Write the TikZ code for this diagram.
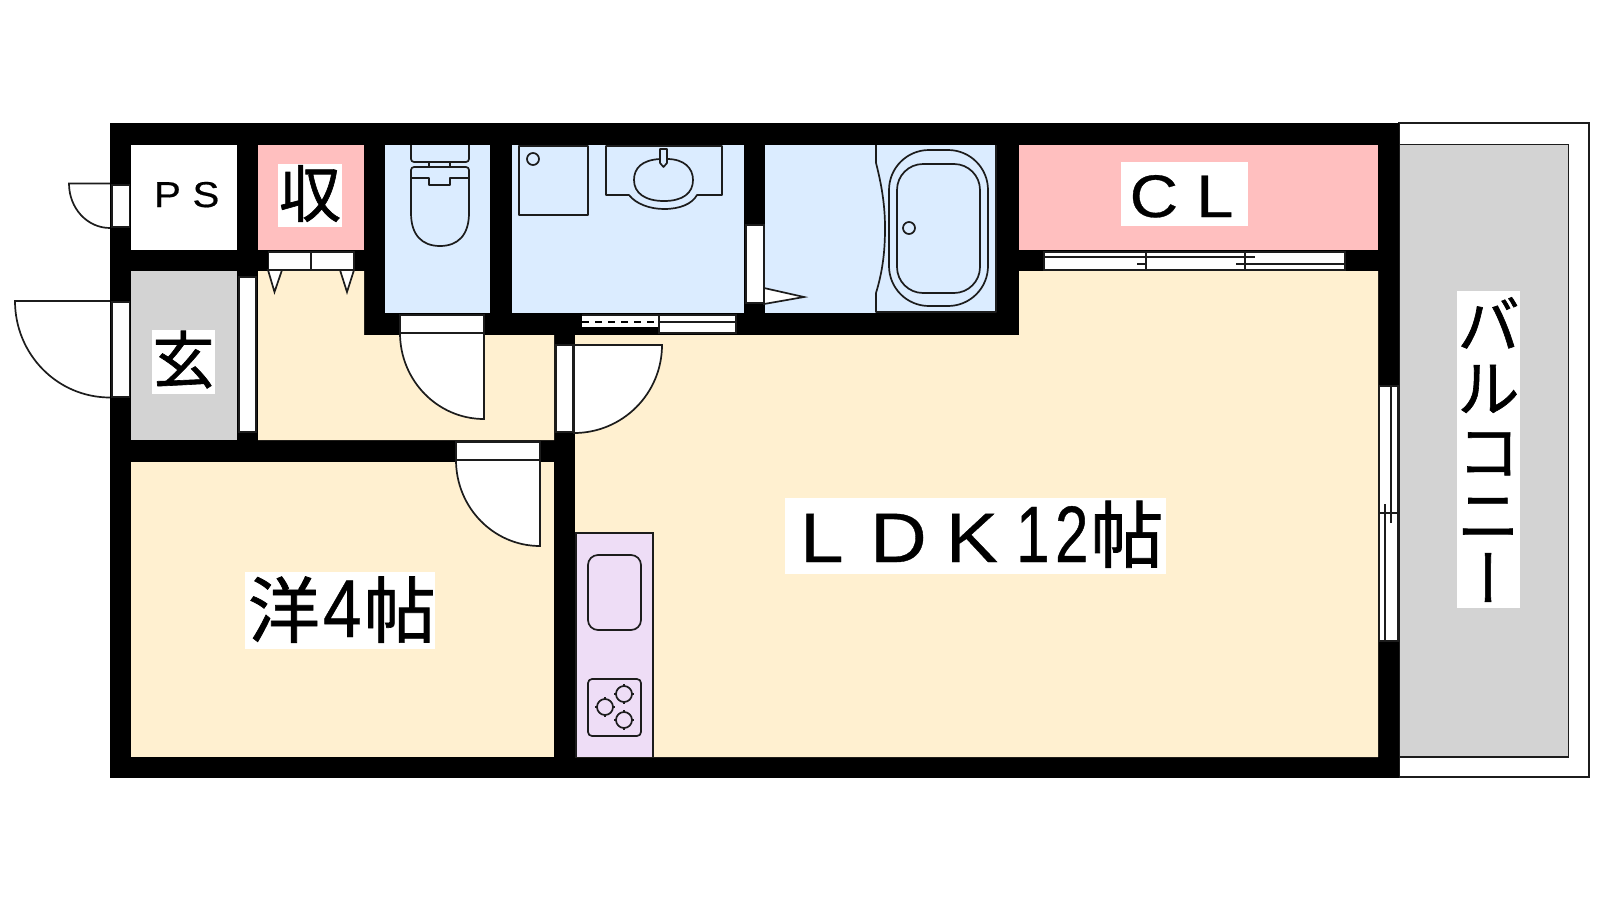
\documentclass[tikz,border=0pt]{standalone}
\usepackage{fontspec}
\setmainfont{Liberation Sans}
\newfontfamily\cjk[FakeBold=1]{Noto Sans CJK JP}
\newfontfamily\cjkv[RawFeature=+vert,FakeBold=1]{Noto Sans CJK JP}
\newfontfamily\widea[FakeStretch=1.12,FakeBold=0.5]{Liberation Sans}
\newfontfamily\narrowa[FakeStretch=0.75,FakeBold=0.5]{Liberation Sans}
\newfontfamily\narrowb[FakeStretch=0.85,FakeBold=0.5]{Liberation Sans}
\definecolor{cream}{HTML}{FFF0D0}
\definecolor{pinkroom}{HTML}{FFBFBF}
\definecolor{skyroom}{HTML}{DBECFF}
\definecolor{grayroom}{HTML}{D3D3D3}
\definecolor{lilac}{HTML}{EEDDF6}
\definecolor{ink}{HTML}{1C1C1C}
% width, height, baseline from top (pt), content
\newcommand\lbl[4]{\makebox[#1pt][l]{\rule[\dimexpr-#2pt+#3pt\relax]{0pt}{#2pt}#4}}
\tikzset{
  ln/.style={draw=ink,line width=0.85pt},
  panel/.style={ln,fill=white},
  fixture/.style={ln,line join=round},
  lab/.style={fill=white,inner sep=0pt,outer sep=0pt,anchor=north west,text=black},
}
\begin{document}
\begin{tikzpicture}[x=0.5pt,y=-0.5pt]
\useasboundingbox (0,0) rectangle (1600,900);
\fill[white] (0,0) rectangle (1600,900);
% balcony
\draw[panel] (1399,123) rectangle (1589,777);
\draw[ln,fill=grayroom] (1399,144.5) rectangle (1568.5,757);
% structure
\fill[black] (110,123) rectangle (1399,778);
% rooms
\fill[white] (131,145) rectangle (237,250);
\fill[pinkroom] (258,145) rectangle (364,250);
\fill[pinkroom] (1019,145) rectangle (1378,250);
\fill[grayroom] (131,271) rectangle (237,440);
\fill[skyroom] (385,145) rectangle (490,313);
\fill[skyroom] (512,145) rectangle (744,313);
\fill[skyroom] (765,145) rectangle (996,313);
\fill[cream] (258,271) -- (364,271) -- (364,335) -- (554,335) -- (554,440) -- (258,440) -- cycle;
\fill[cream] (131,462) rectangle (554,757);
\fill[cream] (1019,271) -- (1378,271) -- (1378,757) -- (575,757) -- (575,335) -- (1019,335) -- cycle;
% exterior doors
\draw[panel] (112,185) rectangle (129.5,227);
\draw[ln] (110,183.5) -- (69,183.5) .. controls (69,208) and (87,228) .. (110,228);
\draw[panel] (112,302) rectangle (129.5,397);
\draw[ln] (110,301) -- (15,301) .. controls (15,354) and (57,397.5) .. (110,397.5);
% genkan partition
\draw[panel] (239,277) rectangle (256,432);
% storage door
\draw[panel] (268.5,252) rectangle (354,270);
\draw[ln] (311,252) -- (311,270);
\draw[panel] (268,270) -- (282,270) -- (274.5,292) -- cycle;
\draw[panel] (340,270) -- (354,270) -- (347,292) -- cycle;
% toilet door
\draw[panel] (400,315) rectangle (484,333);
\draw[panel] (400,333) .. controls (400,380.5) and (437.6,419) .. (484,419) -- (484,333) -- cycle;
% LDK door
\draw[panel] (556,345) rectangle (573,432);
\draw[panel] (574,345) -- (662,345) .. controls (662,393.6) and (622.6,433) .. (574,433) -- cycle;
% western room door
\draw[panel] (456,442) rectangle (540,460);
\draw[panel] (456,460) .. controls (456,507.5) and (493.6,546) .. (540,546) -- (540,460) -- cycle;
% washroom sliding door
\fill[white] (582,316) rectangle (658,327);
\draw[ln] (582,315) -- (658,315);
\draw[draw=black,line width=1pt,dash pattern=on 3.5pt off 3pt] (582,322) -- (658,322);
\draw[panel] (659,315) rectangle (736,333);
\draw[ln] (659,322) -- (736,322);
% bath door
\draw[panel] (746,225) rectangle (764,303);
\draw[panel] (764,288) -- (804,297) -- (764,304) -- cycle;
% bath
\draw[fixture] (876,145) -- (876,163) .. controls (883,190) and (885,210) .. (885,228) .. controls (885,250) and (883,270) .. (876,293) -- (876,312) -- (996,312) -- (996,145);
\draw[fixture,rounded corners=20pt] (889,150) rectangle (988,306);
\draw[fixture,rounded corners=13pt] (897,164) rectangle (980,293);
\draw[fixture] (909,228) circle[radius=6];
% washer pan
\draw[fixture] (519,146) rectangle (588,215);
\draw[fixture] (533,159) circle[radius=6];
% basin
\draw[fixture] (606,146) -- (606,195) -- (629,195) .. controls (636,204) and (650,209) .. (664,209) .. controls (680,209) and (692,204) .. (697,195) -- (722,195) -- (722,146) -- cycle;
\draw[fixture] (660,159) .. controls (642,160) and (634,168) .. (634,180) .. controls (634,193) and (645,201) .. (664,201) .. controls (683,201) and (693,193) .. (693,180) .. controls (693,168) and (684,159) .. (667,159) -- cycle;
\draw[fixture,fill=skyroom] (660,149) -- (667,149) -- (667,163) -- (663.5,167) -- (660,163) -- cycle;
% toilet
\draw[fixture,rounded corners=1.5pt] (411,145) -- (411,162) -- (469,162) -- (469,145);
\draw[fixture] (429,162) -- (429,167) (450,162) -- (450,167);
\draw[fixture,rounded corners=1.5pt] (411,213) -- (411,167) -- (469,167) -- (469,213);
\draw[fixture] (411,213) .. controls (411,235) and (422,246) .. (440,246) .. controls (458,246) and (469,235) .. (469,213);
\draw[fixture] (411,178) -- (429,178) -- (429,185) -- (450,185) -- (450,178) -- (469,178);
% closet sliding doors
\draw[panel] (1044,252) rectangle (1345,270);
\draw[ln] (1146,252) -- (1146,270) (1245,252) -- (1245,270);
\draw[ln] (1044,257) -- (1255,257);
\draw[ln] (1137,264) -- (1146,264) (1236,264) -- (1345,264);
% balcony window
\draw[panel] (1379,386) rectangle (1398,641);
\draw[ln] (1379,513) -- (1398,513);
\draw[ln] (1391,386) -- (1391,523) (1385,504) -- (1385,641);
% kitchen
\draw[ln,fill=lilac] (576,757) -- (576,533) -- (653,533) -- (653,757);
\draw[fixture,rounded corners=5pt] (588,555) rectangle (641,630);
\draw[fixture,rounded corners=2pt] (588,679) rectangle (641,736);
\foreach \n/\cx/\cy in {a/624/694,b/605/707,c/624/720}{
  \draw[fixture] (\cx,\cy) circle[radius=8];
  \draw[fixture] (\cx-10,\cy) -- (\cx-7,\cy) (\cx+7,\cy) -- (\cx+10,\cy) (\cx,\cy-10) -- (\cx,\cy-7) (\cx,\cy+7) -- (\cx,\cy+10);
}
% labels
\node[lab] (ps) at (150,175) {\lbl{40}{16}{16}{\widea\fontsize{18}{18}\selectfont\hspace*{2pt}P\hspace{5.8pt}S}};
\node[lab] (shu) at (278,164) {\lbl{32}{31.5}{26.5}{\fontsize{31}{31}\cjk\selectfont\hspace*{0.5pt}収}};
\node[lab] (gen) at (152,330) {\lbl{31.5}{32}{26.5}{\fontsize{31}{31}\cjk\selectfont\hspace*{0.2pt}玄}};
\node[lab] (cl) at (1121,162) {\lbl{63.5}{32}{27.5}{\widea\fontsize{30}{30}\selectfont\hspace*{4.3pt}C\hspace{9pt}L}};
\node[lab] (ldk) at (785,498) {\lbl{190.5}{38}{32}{\widea\fontsize{35}{35}\selectfont\hspace*{7.5pt}L\hspace{13.3pt}D\hspace{9.5pt}K\hspace{9pt}{\narrowa\fontsize{40}{40}\selectfont 1\hspace{2.8pt}2}\hspace{1pt}{\cjk\fontsize{36.5}{36}\selectfont 帖}}};
\node[lab] (you) at (245,572) {\lbl{95}{38.5}{32.5}{\hspace*{1.5pt}{\cjk\fontsize{36}{36}\selectfont 洋}\hspace{1.5pt}{\narrowb\fontsize{41}{41}\selectfont 4}\hspace{1pt}{\cjk\fontsize{36}{36}\selectfont 帖}}};
\node[fill=white,inner sep=0pt,outer sep=0pt,minimum width=31.5pt,minimum height=158.5pt,align=center,font={\cjk\fontsize{31}{31.7}\selectfont\lineskiplimit=-20pt\relax}] (bal) at (1488.5,449.5) {バ\\ル\\コ\\ニ\\{\cjkv ー}};
\end{tikzpicture}
\end{document}
